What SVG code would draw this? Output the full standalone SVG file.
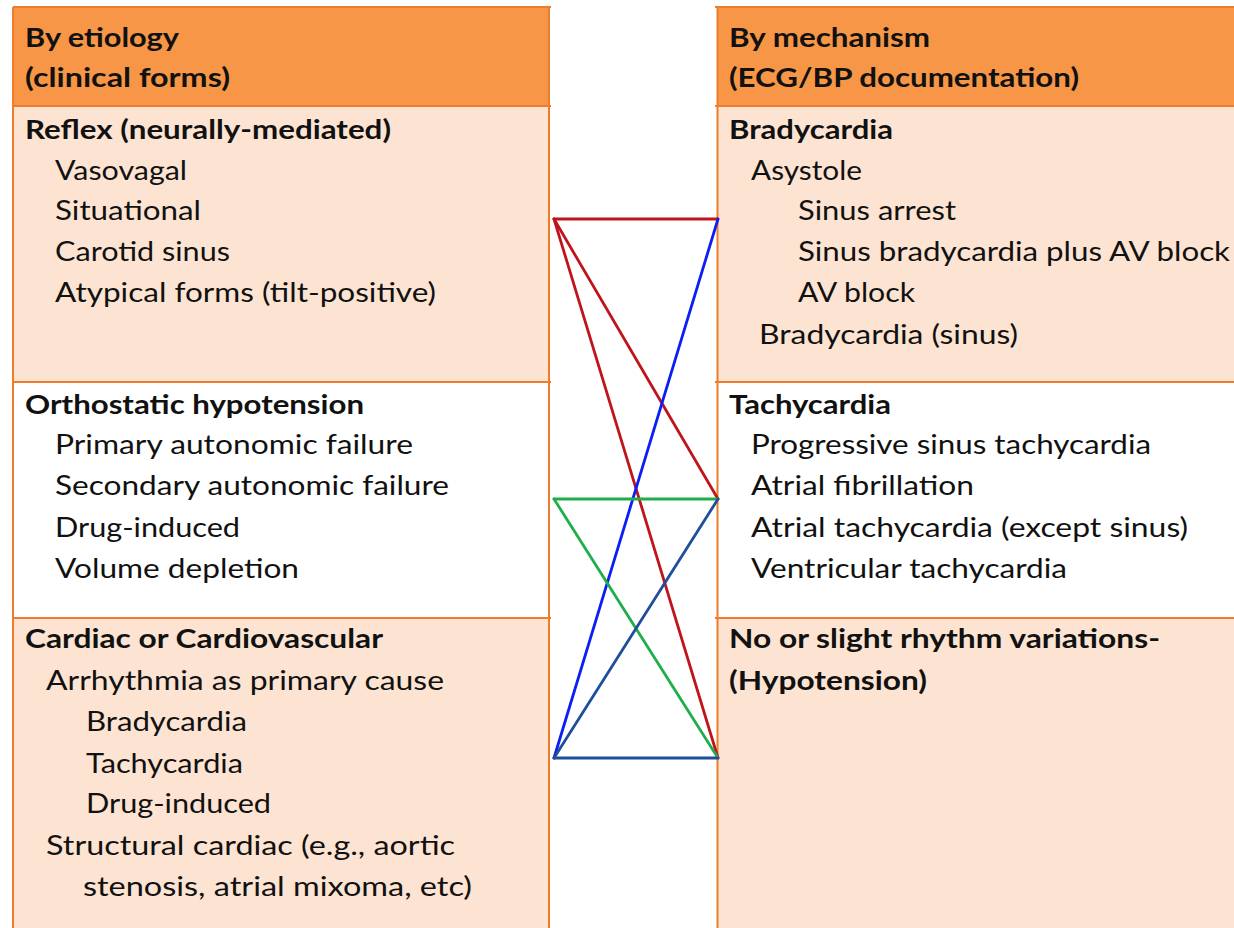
<svg xmlns="http://www.w3.org/2000/svg" width="1234" height="928" viewBox="0 0 1234 928">
<style>
.t{font-family:Lato,"Open Sans","Liberation Sans",sans-serif;font-size:27px;fill:#111}
.b{font-weight:bold}
.hd{fill:#F79646}
.bd{fill:#FDE4D2}
.wh{fill:#FFFFFF}
.bl{stroke:#EE7D2B;stroke-width:2;fill:none}
.c{stroke-width:2.8;fill:none;stroke-linecap:round}
</style>
<rect width="1234" height="928" fill="#FFFFFF"/>
<g id="left-table">
<g id="left-header">
<rect class="hd" x="13" y="7" width="536" height="99"/>
<text class="t b" x="25" y="47" textLength="154" lengthAdjust="spacingAndGlyphs">By etiology</text>
<text class="t b" x="25" y="87" textLength="205" lengthAdjust="spacingAndGlyphs">(clinical forms)</text>
</g>
<g id="reflex">
<rect class="bd" x="13" y="106" width="536" height="276"/>
<text class="t b" x="25" y="139" textLength="366" lengthAdjust="spacingAndGlyphs">Reflex (neurally-mediated)</text>
<text class="t" x="55" y="180" textLength="132" lengthAdjust="spacingAndGlyphs">Vasovagal</text>
<text class="t" x="55" y="220" textLength="146" lengthAdjust="spacingAndGlyphs">Situational</text>
<text class="t" x="55" y="261" textLength="175" lengthAdjust="spacingAndGlyphs">Carotid sinus</text>
<text class="t" x="55" y="302" textLength="381" lengthAdjust="spacingAndGlyphs">Atypical forms (tilt-positive)</text>
</g>
<g id="orthostatic">
<rect class="wh" x="13" y="382" width="536" height="236"/>
<text class="t b" x="25" y="414" textLength="339" lengthAdjust="spacingAndGlyphs">Orthostatic hypotension</text>
<text class="t" x="55" y="454" textLength="358" lengthAdjust="spacingAndGlyphs">Primary autonomic failure</text>
<text class="t" x="55" y="495" textLength="394" lengthAdjust="spacingAndGlyphs">Secondary autonomic failure</text>
<text class="t" x="55" y="537" textLength="185" lengthAdjust="spacingAndGlyphs">Drug-induced</text>
<text class="t" x="55" y="578" textLength="244" lengthAdjust="spacingAndGlyphs">Volume depletion</text>
</g>
<g id="cardiac">
<rect class="bd" x="13" y="618" width="536" height="320"/>
<text class="t b" x="25" y="648" textLength="358" lengthAdjust="spacingAndGlyphs">Cardiac or Cardiovascular</text>
<text class="t" x="46" y="690" textLength="398" lengthAdjust="spacingAndGlyphs">Arrhythmia as primary cause</text>
<text class="t" x="86" y="731" textLength="161" lengthAdjust="spacingAndGlyphs">Bradycardia</text>
<text class="t" x="86" y="773" textLength="157" lengthAdjust="spacingAndGlyphs">Tachycardia</text>
<text class="t" x="86" y="813" textLength="185" lengthAdjust="spacingAndGlyphs">Drug-induced</text>
<text class="t" x="46" y="855" textLength="409" lengthAdjust="spacingAndGlyphs">Structural cardiac (e.g., aortic</text>
<text class="t" x="83" y="896" textLength="389" lengthAdjust="spacingAndGlyphs">stenosis, atrial mixoma, etc)</text>
</g>
<path class="bl" d="M13 7H551M13 106H551M13 382H551M13 618H551M13 7V940M549 7V940"/>
</g>
<g id="right-table">
<g id="right-header">
<rect class="hd" x="717" y="7" width="530" height="99"/>
<text class="t b" x="729" y="47" textLength="201" lengthAdjust="spacingAndGlyphs">By mechanism</text>
<text class="t b" x="729" y="87" textLength="350" lengthAdjust="spacingAndGlyphs">(ECG/BP documentation)</text>
</g>
<g id="bradycardia">
<rect class="bd" x="717" y="106" width="530" height="276"/>
<text class="t b" x="729" y="139" textLength="164" lengthAdjust="spacingAndGlyphs">Bradycardia</text>
<text class="t" x="751" y="180" textLength="111" lengthAdjust="spacingAndGlyphs">Asystole</text>
<text class="t" x="798" y="220" textLength="158" lengthAdjust="spacingAndGlyphs">Sinus arrest</text>
<text class="t" x="798" y="261" textLength="432" lengthAdjust="spacingAndGlyphs">Sinus bradycardia plus AV block</text>
<text class="t" x="798" y="302" textLength="117" lengthAdjust="spacingAndGlyphs">AV block</text>
<text class="t" x="759" y="344" textLength="259" lengthAdjust="spacingAndGlyphs">Bradycardia (sinus)</text>
</g>
<g id="tachycardia">
<rect class="wh" x="717" y="382" width="530" height="236"/>
<text class="t b" x="729" y="414" textLength="162" lengthAdjust="spacingAndGlyphs">Tachycardia</text>
<text class="t" x="751" y="454" textLength="400" lengthAdjust="spacingAndGlyphs">Progressive sinus tachycardia</text>
<text class="t" x="751" y="495" textLength="223" lengthAdjust="spacingAndGlyphs">Atrial fibrillation</text>
<text class="t" x="751" y="537" textLength="437" lengthAdjust="spacingAndGlyphs">Atrial tachycardia (except sinus)</text>
<text class="t" x="751" y="578" textLength="316" lengthAdjust="spacingAndGlyphs">Ventricular tachycardia</text>
</g>
<g id="no-rhythm">
<rect class="bd" x="717" y="618" width="530" height="320"/>
<text class="t b" x="729" y="648" textLength="431" lengthAdjust="spacingAndGlyphs">No or slight rhythm variations-</text>
<text class="t b" x="729" y="690" textLength="198" lengthAdjust="spacingAndGlyphs">(Hypotension)</text>
</g>
<path class="bl" d="M715 7H1240M715 106H1240M715 382H1240M715 618H1240M717.5 7V940"/>
</g>
<g id="connectors">
<line class="c" x1="554" y1="219" x2="718" y2="219" stroke="#C0141C"/>
<line class="c" x1="554" y1="219" x2="718" y2="499" stroke="#C0141C"/>
<line class="c" x1="554" y1="219" x2="718" y2="758" stroke="#C0141C"/>
<line class="c" x1="554" y1="758" x2="718" y2="219" stroke="#0A1EF5"/>
<line class="c" x1="554" y1="499" x2="718" y2="499" stroke="#1EAF4B"/>
<line class="c" x1="554" y1="499" x2="718" y2="758" stroke="#1EAF4B"/>
<line class="c" x1="554" y1="758" x2="718" y2="499" stroke="#1F4E9A"/>
<line class="c" x1="554" y1="758" x2="718" y2="758" stroke="#1F4E9A"/>
</g>
</svg>
